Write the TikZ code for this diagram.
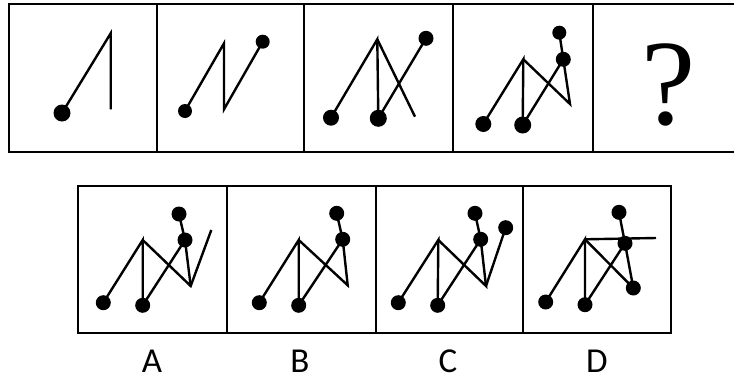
\documentclass[tikz,border=0pt]{standalone}
\usepackage{fontspec}
\setmainfont{Liberation Serif}
\newfontfamily\labfont{Carlito}
\begin{document}
\begin{tikzpicture}[x=1pt,y=-1pt,
  blob/.style={circle, fill=black, inner sep=0pt, minimum size=#1},
  blob/.default=15pt,
  fig/.style={line width=2.4pt, line join=miter},
  frame/.style={line width=2.8pt},
  lab/.style={font=\labfont\fontsize{35}{38}\selectfont, anchor=base, inner sep=0pt}]
\useasboundingbox (0,0) rectangle (734,381);
% top row frames
\draw[frame] (745,4) -- (9,4) -- (9,152) -- (745,152);
\foreach \x in {157,304,453,593} \draw[frame] (\x,4) -- (\x,152);
% bottom row frames
\draw[frame] (78,186) rectangle (671,333);
\foreach \x in {227,376,523} \draw[frame] (\x,186) -- (\x,333);

% panel 1
\node[blob=17pt] (p1a) at (62,113) {};
\coordinate (p1b) at (110.7,33.3);
\coordinate (p1c) at (110.7,109.3);
\draw[fig] (p1a.center) -- (p1b) -- (p1c);

% panel 2
\node[blob=14pt] (p2a) at (185,111) {};
\coordinate (p2b) at (224,43.3);
\coordinate (p2c) at (224,109.3);
\node[blob=14pt] (p2d) at (262.7,41.7) {};
\draw[fig] (p2a.center) -- (p2b) -- (p2c) -- (p2d.center);

% panel 3
\node[blob=16pt] (p3a) at (331,117.7) {};
\coordinate (p3b) at (377.3,39.3);
\node[blob=17pt] (p3c) at (378.3,118.3) {};
\coordinate (p3d) at (415,116.7);
\node[blob=15pt] (p3e) at (426,38.3) {};
\draw[fig] (p3a.center) -- (p3b) -- (p3c.center);
\draw[fig] (p3b) -- (p3d);
\draw[fig] (p3c.center) -- (p3e.center);

% panel 4
\node[blob=16pt] (p4a) at (483.3,124) {};
\coordinate (p4b) at (523.3,59.3);
\node[blob=17pt] (p4c) at (522.7,125) {};
\coordinate (p4d) at (570,104);
\node[blob=15pt] (p4e) at (563.3,59.3) {};
\node[blob=14pt] (p4f) at (559.3,32.7) {};
\draw[fig] (p4a.center) -- (p4b) -- (p4c.center);
\draw[fig] (p4b) -- (p4d) -- (p4e.center);
\draw[fig] (p4c.center) -- (p4e.center) -- (p4f.center);

% question mark
\node[anchor=base, inner sep=0pt, font=\fontsize{122}{122}\selectfont] (q) at (669,124) {?};

% option A
\node[blob] (aa) at (103.3,302.7) {};
\coordinate (ab) at (142.7,240);
\node[blob] (ac) at (142.7,305.3) {};
\coordinate (ad) at (190.7,286);
\coordinate (ae) at (211.3,230);
\node[blob] (af) at (185,240) {};
\node[blob] (ag) at (179,214) {};
\draw[fig] (aa.center) -- (ab) -- (ac.center);
\draw[fig] (ab) -- (ad) -- (ae);
\draw[fig] (ac.center) -- (af.center) -- (ag.center);
\draw[fig] (af.center) -- (ad);

% option B
\node[blob] (ba) at (259.3,302.7) {};
\coordinate (bb) at (298.7,240);
\node[blob] (bc) at (298.7,305.3) {};
\coordinate (bd) at (347.7,285.3);
\node[blob] (be) at (342.7,239.3) {};
\node[blob] (bf) at (336.7,213.3) {};
\draw[fig] (ba.center) -- (bb) -- (bc.center);
\draw[fig] (bb) -- (bd) -- (be.center);
\draw[fig] (bc.center) -- (be.center) -- (bf.center);

% option C
\node[blob] (ca) at (398.3,302.7) {};
\coordinate (cb) at (438.3,240);
\node[blob] (cc) at (437.7,305.3) {};
\coordinate (cd) at (486,286);
\node[blob] (ce) at (480.7,239.3) {};
\node[blob] (cf) at (475,213.3) {};
\node[blob] (cg) at (505.7,227.7) {};
\draw[fig] (ca.center) -- (cb) -- (cc.center);
\draw[fig] (cb) -- (cd) -- (ce.center);
\draw[fig] (cc.center) -- (ce.center) -- (cf.center);
\draw[fig] (cd) -- (cg.center);

% option D
\node[blob] (da) at (545.7,302) {};
\coordinate (db) at (585,239.3);
\node[blob] (dc) at (585,304.7) {};
\coordinate (dh) at (656,238);
\node[blob] (dd) at (633.3,288) {};
\node[blob] (de) at (625,243.3) {};
\node[blob] (df) at (619,212.3) {};
\draw[fig] (da.center) -- (db) -- (dc.center);
\draw[fig] (db) -- (dh);
\draw[fig] (db) -- (dd.center);
\draw[fig] (dc.center) -- (de.center) -- (df.center);
\draw[fig] (de.center) -- (dd.center);

% labels
\node[lab] (la) at (152,372) {A};
\node[lab] (lb) at (300,372) {B};
\node[lab] (lc) at (448,372) {C};
\node[lab] (ld) at (597,372) {D};
\end{tikzpicture}
\end{document}
